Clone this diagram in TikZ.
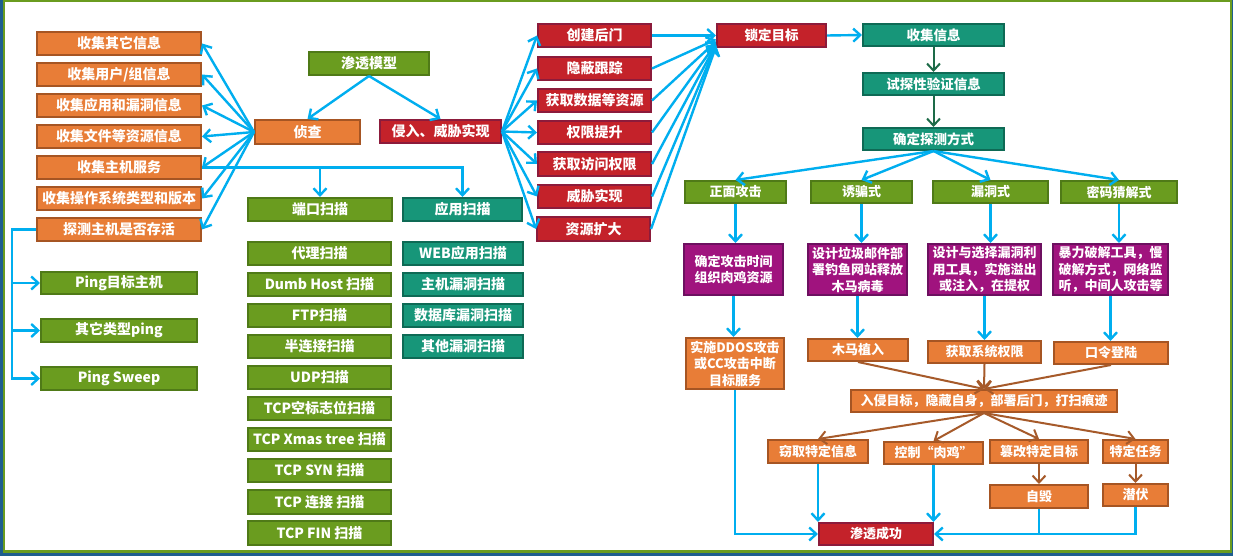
\documentclass[tikz,border=0pt]{standalone}
\usepackage{fontspec}
\setmainfont{Noto Sans CJK SC}
\usetikzlibrary{arrows.meta}
\definecolor{corange}{HTML}{E87D37}
\definecolor{corangeb}{HTML}{A65523}
\definecolor{cgreen}{HTML}{6A9C1F}
\definecolor{cgreenb}{HTML}{4F7A17}
\definecolor{cteal}{HTML}{179679}
\definecolor{ctealb}{HTML}{0E6A55}
\definecolor{cred}{HTML}{C4222A}
\definecolor{credb}{HTML}{8C1B3B}
\definecolor{cpurple}{HTML}{A0137E}
\definecolor{cpurpleb}{HTML}{6D1060}
\definecolor{cblue}{HTML}{00AEEF}
\definecolor{cbrown}{HTML}{A65A2A}
\definecolor{cdgreen}{HTML}{1D6B48}
\definecolor{cframe}{HTML}{1E5E8E}
\tikzset{
  boxbase/.style={draw, line width=2pt, text=white, inner sep=0pt, align=center, font=\bfseries\fontsize{14}{17}\selectfont},
  obox/.style={boxbase, fill=corange, draw=corangeb},
  gbox/.style={boxbase, fill=cgreen, draw=cgreenb},
  tbox/.style={boxbase, fill=cteal, draw=ctealb},
  rbox/.style={boxbase, fill=cred, draw=credb},
  pbox/.style={boxbase, fill=cpurple, draw=cpurpleb},
  small/.style={font=\bfseries\fontsize{13}{16.5}\selectfont},
  mid/.style={font=\bfseries\fontsize{13.5}{16.5}\selectfont},
  barrow/.style={draw=cblue, line width=2.4pt, -{Straight Barb[length=7pt,width=13pt]}},
  bline/.style={draw=cblue, line width=2.4pt},
  narrow/.style={draw=cbrown, line width=2pt, -{Straight Barb[length=7pt,width=13pt]}},
  darrow/.style={draw=cdgreen, line width=2pt, -{Straight Barb[length=7pt,width=13pt]}}
}
\newcommand{\mybox}[7]{\node[#1, minimum width={#4-#2-2}, minimum height={#5-#3-2}] (#6) at ({(#2+#4)/2},{(#3+#5)/2}) {#7};}
\begin{document}
\begin{tikzpicture}[x=1pt,y=-1pt]
\useasboundingbox (0,0) rectangle (1235,556);
\fill[white] (0,0) rectangle (1235,556);
\fill[cframe] (0,0) rectangle (1233,556);
\draw[cgreen, line width=2.5pt, fill=white] (4.2,1.25) rectangle (1231,551.5);

% left collection column
\mybox{obox}{36}{31}{202}{56}{c1}{收集其它信息}
\mybox{obox}{36}{62}{202}{87}{c2}{收集用户/组信息}
\mybox{obox}{36}{93}{202}{118}{c3}{收集应用和漏洞信息}
\mybox{obox}{36}{124}{202}{149}{c4}{收集文件等资源信息}
\mybox{obox}{36}{155}{202}{180}{c5}{收集主机服务}
\mybox{obox}{36}{186}{202}{211}{c6}{收集操作系统类型和版本}
\mybox{obox}{36}{217}{202}{242}{c7}{探测主机是否存活}

\mybox{gbox}{308}{51}{430}{76}{model}{渗透模型}
\mybox{obox}{254}{119}{361}{145}{recon}{侦查}
\mybox{rbox}{379}{119}{502}{144}{intru}{侵入、威胁实现}

% ping
\mybox{gbox}{40}{271}{198}{295}{p1}{Ping目标主机}
\mybox{gbox}{40}{318}{198}{343}{p2}{其它类型ping}
\mybox{gbox}{40}{366}{198}{391}{p3}{Ping Sweep}

% scans
\mybox{gbox}{247}{197}{393}{222}{port}{端口扫描}
\mybox{tbox}{402}{197}{523}{222}{app}{应用扫描}
\mybox{gbox}{247}{241}{392}{266}{s1}{代理扫描}
\mybox{gbox}{247}{272}{392}{297}{s2}{Dumb Host 扫描}
\mybox{gbox}{247}{303}{392}{328}{s3}{FTP扫描}
\mybox{gbox}{247}{334}{392}{359}{s4}{半连接扫描}
\mybox{gbox}{247}{365}{392}{390}{s5}{UDP扫描}
\mybox{gbox}{247}{396}{392}{421}{s6}{TCP空标志位扫描}
\mybox{gbox}{247}{427}{392}{452}{s7}{TCP Xmas tree 扫描}
\mybox{gbox}{247}{458}{392}{483}{s8}{TCP SYN 扫描}
\mybox{gbox}{247}{489}{392}{515}{s9}{TCP 连接 扫描}
\mybox{gbox}{247}{520}{392}{546}{s10}{TCP FIN 扫描}
\mybox{tbox}{402}{241}{524}{266}{a1}{WEB应用扫描}
\mybox{tbox}{402}{272}{524}{297}{a2}{主机漏洞扫描}
\mybox{tbox}{402}{303}{524}{328}{a3}{数据库漏洞扫描}
\mybox{tbox}{402}{334}{524}{359}{a4}{其他漏洞扫描}

% intrusion column
\mybox{rbox}{537}{23}{652}{48}{r1}{创建后门}
\mybox{rbox}{537}{56}{652}{81}{r2}{隐蔽跟踪}
\mybox{rbox}{537}{88}{652}{113}{r3}{获取数据等资源}
\mybox{rbox}{537}{120}{652}{145}{r4}{权限提升}
\mybox{rbox}{537}{151}{652}{177}{r5}{获取访问权限}
\mybox{rbox}{537}{184}{652}{209}{r6}{威胁实现}
\mybox{rbox}{536}{216}{651}{242}{r7}{资源扩大}

% right part
\mybox{rbox,mid}{716}{23}{827}{48}{lock}{锁定目标}
\mybox{tbox,mid}{862}{23}{1005}{47}{gather}{收集信息}
\mybox{tbox,mid}{862}{72}{1005}{96}{verify}{试探性验证信息}
\mybox{tbox,mid}{862}{127}{1005}{151}{decide}{确定探测方式}

\mybox{gbox,small}{684}{180}{787}{204}{m1}{正面攻击}
\mybox{gbox,small}{810}{180}{913}{204}{m2}{诱骗式}
\mybox{gbox,small}{932}{180}{1049}{204}{m3}{漏洞式}
\mybox{gbox,small}{1060}{180}{1178}{204}{m4}{密码猜解式}

\mybox{pbox,small}{683}{243}{784}{296}{q1}{确定攻击时间\\组织肉鸡资源}
\mybox{pbox,small}{807}{243}{908}{296}{q2}{设计垃圾邮件部\\署钓鱼网站释放\\木马病毒}
\mybox{pbox,small}{927}{243}{1042}{296}{q3}{设计与选择漏洞利\\用工具，实施溢出\\或注入，在提权}
\mybox{pbox,small}{1052}{243}{1169}{296}{q4}{暴力破解工具，慢\\破解方式，网络监\\听，中间人攻击等}

\mybox{obox,small}{685}{337}{785}{390}{o1}{实施DDOS攻击\\或CC攻击中断\\目标服务}
\mybox{obox,small}{807}{338}{909}{362}{o2}{木马植入}
\mybox{obox,small}{927}{340}{1042}{364}{o3}{获取系统权限}
\mybox{obox,small}{1053}{341}{1169}{365}{o4}{口令登陆}

\mybox{obox,small}{850}{389}{1118}{413}{invade}{入侵目标，隐藏自身，部署后门，打扫痕迹}

\mybox{obox,small}{767}{439}{869}{464}{t1}{窃取特定信息}
\mybox{obox,small}{883}{441}{984}{465}{t2}{控制“肉鸡”}
\mybox{obox,small}{989}{439}{1089}{464}{t3}{篡改特定目标}
\mybox{obox,small}{1102}{439}{1169}{464}{t4}{特定任务}
\mybox{obox,small}{989}{484}{1089}{509}{u1}{自毁}
\mybox{obox,small}{1102}{483}{1169}{507}{u2}{潜伏}

\mybox{rbox,small}{818}{522}{934}{546}{succ}{渗透成功}

% connectors: model
\draw[barrow] (model.south) -- (recon.north);
\draw[barrow] (model.south) -- (intru.north);
\foreach \n in {c1,c2,c3,c4,c5,c6,c7} \draw[barrow] (recon.west) -- (\n.east);
% ping
\foreach \n in {p1,p2,p3} \draw[barrow] (c7.west) -- ([xshift=-24pt]c7.west) |- (\n.west);
% host service branch
\draw[barrow] (c5.east) -| (app.north);
\draw[barrow] (port.north |- c5.east) -- (port.north);
% intrusion fan
\foreach \n in {r1,r2,r3,r4,r5,r6,r7} \draw[barrow] (intru.east) -- (\n.west);
\draw[barrow] (r1.east) -- (lock.west);
\draw[barrow] (r2.east) -- ([yshift=-4pt]lock.west);
\draw[barrow] (r3.east) -- ([yshift=-6pt]lock.west);
\draw[barrow] (r4.east) -- ([yshift=-8pt]lock.west);
\draw[barrow] (r5.east) -- ([yshift=-9pt]lock.west);
\draw[barrow] (r6.east) -- ([yshift=-10pt]lock.west);
\draw[barrow] (r7.east) -- ([yshift=-11pt]lock.west);
\draw[barrow] (lock.east) -- (gather.west);
\draw[darrow] (gather.south) -- (verify.north);
\draw[darrow] (verify.south) -- (decide.north);
\foreach \n in {m1,m2,m3,m4} \draw[barrow] (decide.south) -- (\n.north);
\draw[barrow] (m1.south) -- (m1.south |- q1.north);
\draw[barrow] (m2.south) -- (m2.south |- q2.north);
\draw[barrow] (m3.south) -- (m3.south |- q3.north);
\draw[barrow] (m4.south) -- (m4.south |- q4.north);
\draw[barrow] (q1.south) -- (q1.south |- o1.north);
\draw[barrow] (q2.south) -- (q2.south |- o2.north);
\draw[barrow] (q3.south) -- (q3.south |- o3.north);
\draw[barrow] (q4.south) -- (q4.south |- o4.north);
\foreach \n in {o2,o3,o4} \draw[narrow] (\n.south) -- (invade.north);
\foreach \n in {t1,t2,t3,t4} \draw[narrow] (invade.south) -- (\n.north);
\draw[narrow] (t3.south) -- (u1.north);
\draw[narrow] (t4.south) -- (u2.north);
\draw[barrow] (o1.south) |- (succ.west);
\draw[barrow] (t1.south) -- (t1.south |- succ.north);
\draw[barrow] (t2.south) -- (t2.south |- succ.north);
\draw[bline] (u1.south) -- (u1.south |- succ.east);
\draw[barrow] (u2.south) |- (succ.east);
\end{tikzpicture}
\end{document}
